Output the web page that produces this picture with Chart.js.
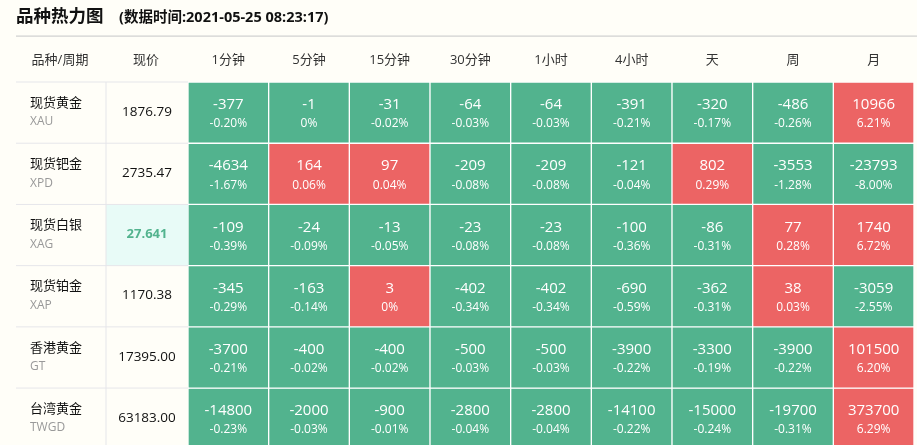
<!DOCTYPE html>
<html><head><meta charset="utf-8">
<script src="https://cdn.jsdelivr.net/npm/chart.js@4"></script>
<style>html,body{margin:0;padding:0;background:#fffef8;}canvas{display:block}</style>
</head><body>
<canvas id="c" width="917" height="445"></canvas>
<script>
const periods = ['1分钟','5分钟','15分钟','30分钟','1小时','4小时','天','周','月'];
const names = ['现货黄金','现货钯金','现货白银','现货铂金','香港黄金','台湾黄金'];
const codes = ['XAU','XPD','XAG','XAP','GT','TWGD'];
const prices = ['1876.79','2735.47','27.641','1170.38','17395.00','63183.00'];
const deltaXAU = [-377,-1,-31,-64,-64,-391,-320,-486,10966];
const pctXAU = ['-0.20%','0%','-0.02%','-0.03%','-0.03%','-0.21%','-0.17%','-0.26%','6.21%'];
const deltaXPD = [-4634,164,97,-209,-209,-121,802,-3553,-23793];
const pctXPD = ['-1.67%','0.06%','0.04%','-0.08%','-0.08%','-0.04%','0.29%','-1.28%','-8.00%'];
const deltaXAG = [-109,-24,-13,-23,-23,-100,-86,77,1740];
const pctXAG = ['-0.39%','-0.09%','-0.05%','-0.08%','-0.08%','-0.36%','-0.31%','0.28%','6.72%'];
const deltaXAP = [-345,-163,3,-402,-402,-690,-362,38,-3059];
const pctXAP = ['-0.29%','-0.14%','0%','-0.34%','-0.34%','-0.59%','-0.31%','0.03%','-2.55%'];
const deltaGT = [-3700,-400,-400,-500,-500,-3900,-3300,-3900,101500];
const pctGT = ['-0.21%','-0.02%','-0.02%','-0.03%','-0.03%','-0.22%','-0.19%','-0.22%','6.20%'];
const deltaTWGD = [-14800,-2000,-900,-2800,-2800,-14100,-15000,-19700,373700];
const pctTWGD = ['-0.23%','-0.03%','-0.01%','-0.04%','-0.04%','-0.22%','-0.24%','-0.31%','6.29%'];

const deltas = [deltaXAU,deltaXPD,deltaXAG,deltaXAP,deltaGT,deltaTWGD];
const pcts = [pctXAU,pctXPD,pctXAG,pctXAP,pctGT,pctTWGD];
const UP='#ec6464', DOWN='#52b38e';
const F='"Open Sans","Noto Sans CJK SC",sans-serif';

const datasets = deltas.map((d,i)=>({
  label: names[i],
  data: d.map(()=>1),
  backgroundColor: d.map(v=>v>0?UP:DOWN),
  borderColor:'#ffffff', borderWidth:1, borderSkipped:false,
  barPercentage:1, categoryPercentage:1
}));

const tablePlugin = {
  id:'table',
  beforeDraw(chart){
    const ctx=chart.ctx, ca=chart.chartArea, y=chart.scales.y;
    ctx.save();
    ctx.fillStyle='#fffef8'; ctx.fillRect(0,0,chart.width,chart.height);
    ctx.fillStyle='#111'; ctx.textBaseline='middle'; ctx.textAlign='left';
    ctx.font='bold 17.5px '+F; ctx.fillText('品种热力图',16,17);
    ctx.font='bold 14.5px '+F; ctx.fillText('(数据时间:2021-05-25 08:23:17)',119,18);
    ctx.fillStyle='#cfcfcf'; ctx.fillRect(16,35.5,chart.width-16,1.2);
    ctx.fillStyle='#333'; ctx.font='13px '+F; ctx.textAlign='center';
    ctx.fillText('品种/周期',60,60); ctx.fillText('现价',146,60);
    const xs=chart.scales.x;
    periods.forEach((p,i)=>ctx.fillText(p,xs.getPixelForValue(i),60));
    const rowTop=r=>y.getPixelForValue(r), rowBot=r=>y.getPixelForValue(r+1);
    ctx.fillStyle='#e8fbf7'; ctx.fillRect(106,rowTop(2),ca.left-106,rowBot(2)-rowTop(2));
    ctx.fillStyle='#e6e6ea';
    for(let r=0;r<names.length;r++){ctx.fillRect(16,rowTop(r)-0.5,ca.left-16,1);}
    ctx.fillRect(105.5,ca.top,1,ca.bottom-ca.top);
    for(let r=0;r<names.length;r++){
      const t=rowTop(r);
      ctx.textAlign='left'; ctx.fillStyle='#111'; ctx.font='13px '+F;
      ctx.fillText(names[r],30,t+21);
      ctx.fillStyle='#999'; ctx.font='12px '+F; ctx.fillText(codes[r],30,t+40);
      ctx.textAlign='center';
      if(r===2){ctx.fillStyle='#52b38e'; ctx.font='bold 13px '+F;} else {ctx.fillStyle='#111'; ctx.font='13.5px '+F;}
      ctx.fillText(prices[r],147,t+30);
    }
    ctx.restore();
  },
  afterDatasetsDraw(chart){
    const ctx=chart.ctx;
    ctx.save(); ctx.fillStyle='#fff'; ctx.textAlign='center'; ctx.textBaseline='middle';
    chart.data.datasets.forEach((ds,r)=>{
      chart.getDatasetMeta(r).data.forEach((bar,c)=>{
        const top=Math.min(bar.y,bar.base);
        ctx.font='15px '+F; ctx.fillText(String(deltas[r][c]),bar.x,top+23);
        ctx.font='12px '+F; ctx.fillText(pcts[r][c],bar.x,top+42);
      });
    });
    ctx.restore();
  }
};

new Chart(document.getElementById('c'),{
  type:'bar',
  data:{labels:periods,datasets},
  options:{
    responsive:false, animation:false, devicePixelRatio:1,
    layout:{padding:{left:188,top:82,right:3,bottom:0}},
    plugins:{legend:{display:false},tooltip:{enabled:false}},
    scales:{
      x:{display:false,stacked:true,offset:true},
      y:{display:false,stacked:true,reverse:true,min:0,max:5.93}
    }
  },
  plugins:[tablePlugin]
});
</script>
</body></html>
